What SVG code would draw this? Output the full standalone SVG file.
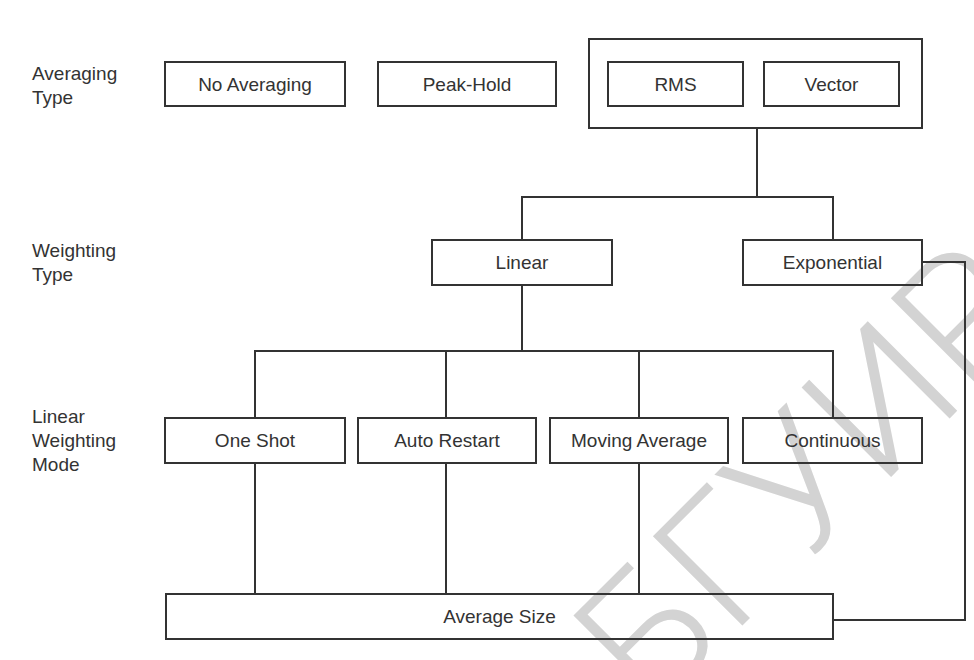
<svg xmlns="http://www.w3.org/2000/svg" width="974" height="660" viewBox="0 0 974 660">
<style>
.box{fill:none;stroke:#333;stroke-width:2}
.ln{fill:none;stroke:#333;stroke-width:2}
.t{font-family:"Liberation Sans",Arial,sans-serif;font-size:19px;fill:#333;text-anchor:middle}
.lb{font-family:"Liberation Sans",Arial,sans-serif;font-size:19px;fill:#333}
.wm{font-family:Roboto,"Liberation Sans",sans-serif;font-weight:300;font-size:178px;fill:#d3d3d3}
</style>
<rect width="974" height="660" fill="#ffffff"/>
<g id="watermark">
<text class="wm" transform="translate(652,716) rotate(-45)">БГУИР</text>
</g>
<g id="labels">
<text class="lb" x="32" y="80">Averaging</text>
<text class="lb" x="32" y="104">Type</text>
<text class="lb" x="32" y="257">Weighting</text>
<text class="lb" x="32" y="281">Type</text>
<text class="lb" x="32" y="423">Linear</text>
<text class="lb" x="32" y="447">Weighting</text>
<text class="lb" x="32" y="471">Mode</text>
</g>
<g id="connectors">
<polyline class="ln" points="757,128 757,197"/>
<polyline class="ln" points="522,240 522,197 833,197 833,240"/>
<polyline class="ln" points="522,285 522,351"/>
<polyline class="ln" points="255,418 255,351 833,351 833,418"/>
<polyline class="ln" points="446,351 446,418"/>
<polyline class="ln" points="639,351 639,418"/>
<polyline class="ln" points="255,463 255,594"/>
<polyline class="ln" points="446,463 446,594"/>
<polyline class="ln" points="639,463 639,594"/>
<polyline class="ln" points="922,262 965,262 965,620 833,620"/>
</g>
<g id="no-averaging"><rect class="box" x="165" y="62" width="180" height="44"/><text class="t" x="255" y="91">No Averaging</text></g>
<g id="peak-hold"><rect class="box" x="378" y="62" width="178" height="44"/><text class="t" x="467" y="91">Peak-Hold</text></g>
<g id="rms-vector-group"><rect class="box" x="589" y="39" width="333" height="89"/></g>
<g id="rms"><rect class="box" x="608" y="62" width="135" height="44"/><text class="t" x="675.5" y="91">RMS</text></g>
<g id="vector"><rect class="box" x="764" y="62" width="135" height="44"/><text class="t" x="831.5" y="91">Vector</text></g>
<g id="linear"><rect class="box" x="432" y="240" width="180" height="45"/><text class="t" x="522" y="269">Linear</text></g>
<g id="exponential"><rect class="box" x="743" y="240" width="179" height="45"/><text class="t" x="832.5" y="269">Exponential</text></g>
<g id="one-shot"><rect class="box" x="165" y="418" width="180" height="45"/><text class="t" x="255" y="447">One Shot</text></g>
<g id="auto-restart"><rect class="box" x="358" y="418" width="178" height="45"/><text class="t" x="447" y="447">Auto Restart</text></g>
<g id="moving-average"><rect class="box" x="550" y="418" width="178" height="45"/><text class="t" x="639" y="447">Moving Average</text></g>
<g id="continuous"><rect class="box" x="743" y="418" width="179" height="45"/><text class="t" x="832.5" y="447">Continuous</text></g>
<g id="average-size"><rect class="box" x="166" y="594" width="667" height="45"/><text class="t" x="499.5" y="623">Average Size</text></g>
</svg>
